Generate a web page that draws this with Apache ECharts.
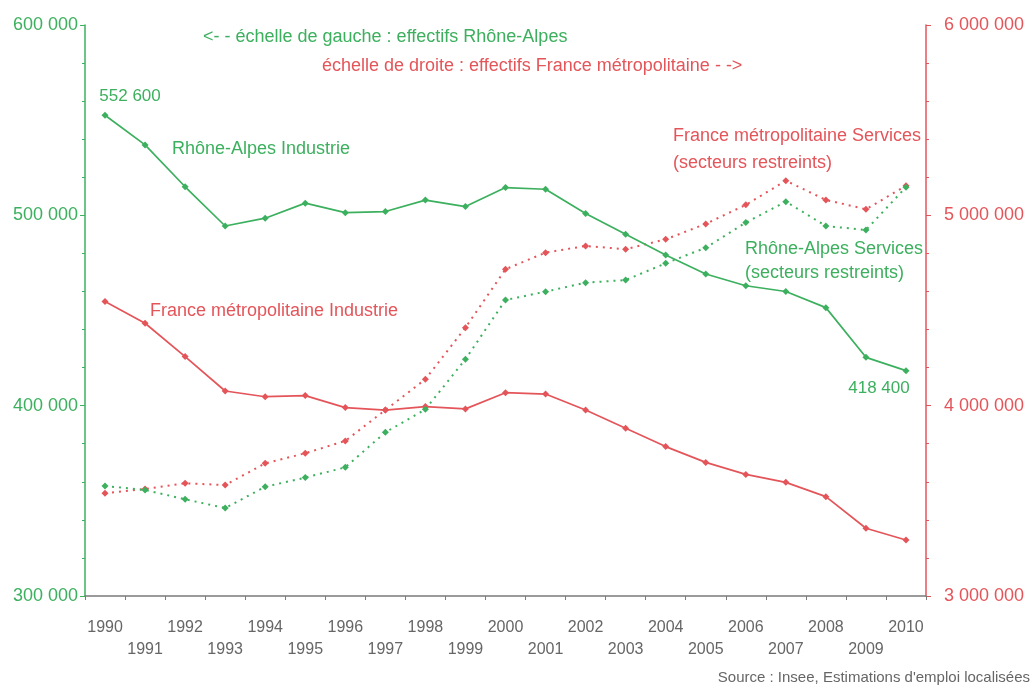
<!DOCTYPE html>
<html>
<head>
<meta charset="utf-8">
<script src="https://cdn.jsdelivr.net/npm/echarts@6/dist/echarts.min.js"></script>
<style>
html,body{margin:0;padding:0;background:#fff;}
#chart{width:1035px;height:688px;}
</style>
</head>
<body>
<div id="chart"></div>
<script>
// annees
var years = ['1990','1991','1992','1993','1994','1995','1996','1997','1998','1999','2000',
	'2001','2002','2003','2004','2005','2006','2007','2008','2009','2010'];

// echelle de gauche : Rhone-Alpes
var raIndustrie = [552600, 537000, 515000, 494400, 498500, 506400, 501400, 502000, 508000, 504600, 514600,
	513700, 501000, 490000, 479200, 469200, 463000, 460000, 451500, 425400, 418400];
var raServices = [357800, 355700, 350800, 346200, 357400, 362200, 367600, 386000, 398100, 424400, 455500,
	459900, 464600, 466000, 474800, 483000, 496200, 507200, 494400, 492300, 514800];

// echelle de droite : France metropolitaine
var frIndustrie = [4547000, 4433000, 4258000, 4077000, 4047000, 4053000, 3990000, 3977000, 3995000, 3983000, 4068000,
	4061000, 3977000, 3881000, 3785000, 3702000, 3639000, 3597000, 3522000, 3356000, 3294000];
var frServices = [3540000, 3562000, 3592000, 3583000, 3697000, 3750000, 3815000, 3977000, 4139000, 4410000, 4717000,
	4804000, 4839000, 4822000, 4874000, 4955000, 5055000, 5182000, 5081000, 5032000, 5155000];

var green = '#3cb05e';
var red = '#e4555a';
var font = '"Liberation Sans", sans-serif';

function fmt(v){ // 600000 -> "600 000"
	return String(v).replace(/\B(?=(\d{3})+(?!\d))/g, ' ');
}

function makeLine(name, data, color, yIdx, dotted){
	return {
		name: name,
		type: 'line',
		yAxisIndex: yIdx,
		data: data,
		symbol: 'diamond',
		symbolSize: 7,
		itemStyle: {color: color},
		lineStyle: {color: color, width: dotted ? 2 : 1.7, type: dotted ? [2, 5] : 'solid'},
		animation: false
	};
}

var chart = echarts.init(document.getElementById('chart'));

var raInd = makeLine('Rhône-Alpes Industrie', raIndustrie, green, 0, false);
raInd.label = {
	show: true,
	color: green,
	fontFamily: font,
	fontSize: 17,
	formatter: function(p){
		if (p.dataIndex === 0 || p.dataIndex === raIndustrie.length - 1) return fmt(p.value);
		return '';
	},
	position: 'top'
};
raInd.labelLayout = function(p){
	if (p.dataIndex === 0) return {dx: 25, dy: -2};
	return {dx: -27, dy: 35};
};

var option = {
	textStyle: {fontFamily: font},
	grid: {left: 85, right: 109, top: 25, bottom: 92},
	xAxis: {
		type: 'category',
		data: years,
		boundaryGap: true,
		axisLine: {lineStyle: {color: '#7a7a7a', width: 1.5}},
		axisTick: {show: true, interval: 0, length: 4, lineStyle: {color: '#7a7a7a'}},
		axisLabel: {
			interval: 0,
			color: '#666',
			fontSize: 16,
			fontFamily: font,
			margin: 21,
			lineHeight: 22,
			formatter: function(v, i){
				return (i % 2 === 1) ? '\n' + v : v;
			}
		}
	},
	yAxis: [
		{
			type: 'value',
			min: 300000,
			max: 600000,
			interval: 100000,
			position: 'left',
			splitLine: {show: false},
			axisLine: {show: true, lineStyle: {color: green, width: 1.5}},
			axisTick: {show: true, length: 5, lineStyle: {color: green}},
			minorTick: {show: true, splitNumber: 5, length: 3, lineStyle: {color: green}},
			axisLabel: {color: green, fontSize: 18, fontFamily: font, margin: 7, formatter: fmt}
		},
		{
			type: 'value',
			min: 3000000,
			max: 6000000,
			interval: 1000000,
			position: 'right',
			splitLine: {show: false},
			axisLine: {show: true, lineStyle: {color: red, width: 1.5}},
			axisTick: {show: true, length: 5, lineStyle: {color: red}},
			minorTick: {show: true, splitNumber: 5, length: 3, lineStyle: {color: red}},
			axisLabel: {color: red, fontSize: 18, fontFamily: font, margin: 18, formatter: fmt}
		}
	],
	series: [
		makeLine('France métropolitaine Industrie', frIndustrie, red, 1, false),
		makeLine('France métropolitaine Services', frServices, red, 1, true),
		makeLine('Rhône-Alpes Services', raServices, green, 0, true),
		raInd
	],
	graphic: [
		{type: 'text', left: 203, top: 28, style: {text: '<- - échelle de gauche : effectifs Rhône-Alpes', fill: green, font: '18px ' + font}},
		{type: 'text', left: 322, top: 57, style: {text: 'échelle de droite : effectifs France métropolitaine - ->', fill: red, font: '18px ' + font}},
		{type: 'text', left: 172, top: 140, style: {text: 'Rhône-Alpes Industrie', fill: green, font: '18px ' + font}},
		{type: 'text', left: 150, top: 302, style: {text: 'France métropolitaine Industrie', fill: red, font: '18px ' + font}},
		{type: 'text', right: 114, top: 123, style: {text: 'France métropolitaine Services\n(secteurs restreints)', fill: red, font: '18px ' + font, align: 'right', lineHeight: 27}},
		{type: 'text', right: 112, top: 237, style: {text: 'Rhône-Alpes Services\n(secteurs restreints)', fill: green, font: '18px ' + font, align: 'right', lineHeight: 24}},
		{type: 'text', right: 5, top: 670, style: {text: "Source : Insee, Estimations d'emploi localisées", fill: '#666', font: '15px ' + font, align: 'right'}}
	]
};

chart.setOption(option);
</script>
</body>
</html>
